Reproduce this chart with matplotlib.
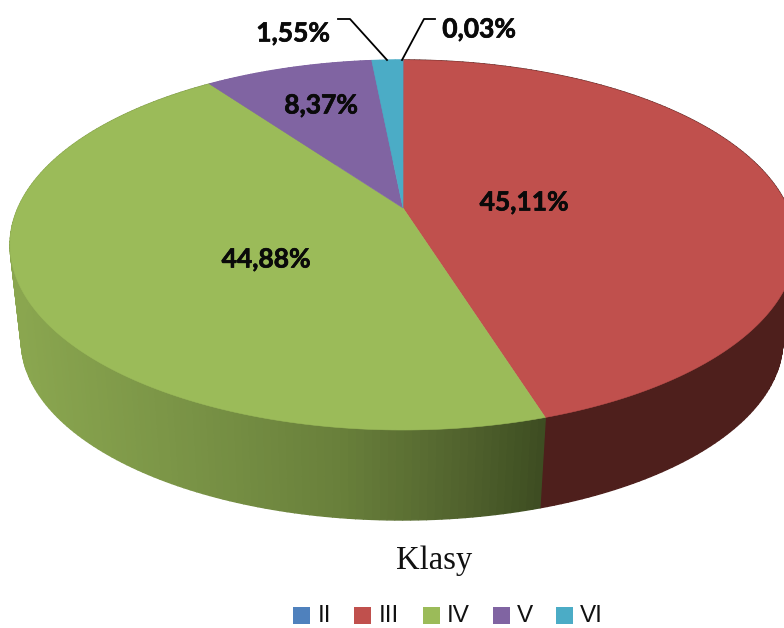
import matplotlib
matplotlib.use('Agg')
import matplotlib.pyplot as plt
import matplotlib.patheffects as pe
import numpy as np
from matplotlib.patches import Polygon, Rectangle

classes = ['II', 'III', 'IV', 'V', 'VI']
shares = [0.03, 45.11, 44.88, 8.37, 1.55]
share_labels = ['0,03%', '45,11%', '44,88%', '8,37%', '1,55%']
colors = ['#4f81bd', '#c0504d', '#9bbb59', '#8064a2', '#4bacc6']
xlabel = 'Klasy'

# perspective of the pie, in pixels
X0, Y0 = 403, 208
A, B, K = 385, 177.6, 0.2
X1, Y1 = 402, 305
A1, B1 = 373, 172


def top_rim(t):
    u, v = np.sin(t), np.cos(t)
    return X0 + A * u / (1 + K * v), Y0 - B * v / (1 + K * v)


def low_rim(t):
    u, v = np.sin(t), np.cos(t)
    return X1 + A1 * u / (1 + K * v), Y1 - B1 * v / (1 + K * v)


fig = plt.figure(figsize=(7.84, 6.28), dpi=100)
ax = fig.add_axes([0, 0, 1, 1])
ax.set_xlim(0, 784)
ax.set_ylim(628, 0)
ax.axis('off')

edges = np.concatenate([[0], np.cumsum(shares)]) / np.sum(shares) * 2 * np.pi

# side wall first, in narrow strips so the shading can change along it
for i in range(len(shares)):
    ts = np.linspace(edges[i], edges[i + 1], max(2, int((edges[i + 1] - edges[i]) * 60)))
    for a, b in zip(ts[:-1], ts[1:]):
        xa, ya = top_rim(a)
        xb, yb = top_rim(b)
        xc, yc = low_rim(b)
        xd, yd = low_rim(a)
        if classes[i] == 'IV':
            mid = (xa + xb) / 2
            c = (np.interp(mid, [20, 200, 340, 460, 545], [0.54, 0.47, 0.41, 0.32, 0.24]),
                 np.interp(mid, [20, 200, 340, 460, 545], [0.65, 0.57, 0.50, 0.39, 0.30]),
                 np.interp(mid, [20, 200, 340, 460, 545], [0.31, 0.27, 0.23, 0.18, 0.13]))
        elif classes[i] == 'III':
            c = '#4e1f1c'
        else:
            c = colors[i]
        ax.add_patch(Polygon([(xa, ya), (xb, yb), (xc, yc), (xd, yd)], closed=True,
                             facecolor=c, edgecolor=c, linewidth=1.0, zorder=1))

# top face
for i in range(len(shares)):
    ts = np.linspace(edges[i], edges[i + 1], 200)
    xs, ys = top_rim(ts)
    pts = [(X0, Y0)] + list(zip(xs, ys))
    ax.add_patch(Polygon(pts, closed=True, facecolor=colors[i], edgecolor=colors[i],
                         linewidth=0.4, zorder=2))

lab_font = dict(family='Lato', fontweight='bold', fontsize=19, color='#0a0a0a', zorder=5,
                path_effects=[pe.withStroke(linewidth=0.5, foreground='#0a0a0a')])
ax.text(524, 202.5, share_labels[1], ha='center', va='center', **lab_font)
ax.text(266, 259.5, share_labels[2], ha='center', va='center', **lab_font)
ax.text(321, 105.5, share_labels[3], ha='center', va='center', **lab_font)
ax.text(293, 33.5, share_labels[4], ha='center', va='center', **lab_font)
ax.text(479, 29.5, share_labels[0], ha='center', va='center', **lab_font)

# leader lines
ax.plot([338, 350, 387], [19, 19, 60], color='black', lw=1.3, zorder=4)
ax.plot([435, 424, 402], [19, 19, 60], color='black', lw=1.3, zorder=4)

ax.text(434, 561, xlabel, family='Liberation Serif', fontsize=23.5, ha='center', va='center',
        color='#111111')

# legend, raised a little so the text box stays inside the figure
box_x = [293, 354, 423, 493, 556]
text_x = [318, 379, 447, 517, 580]
for i in range(len(classes)):
    ax.add_patch(Rectangle((box_x[i], 607), 17, 17, facecolor=colors[i], edgecolor='none'))
    ax.text(text_x[i], 622.5, classes[i], family='Liberation Sans', fontsize=17.5, ha='left',
            va='baseline', color='#111111')

fig.savefig('out.png', dpi=100)
